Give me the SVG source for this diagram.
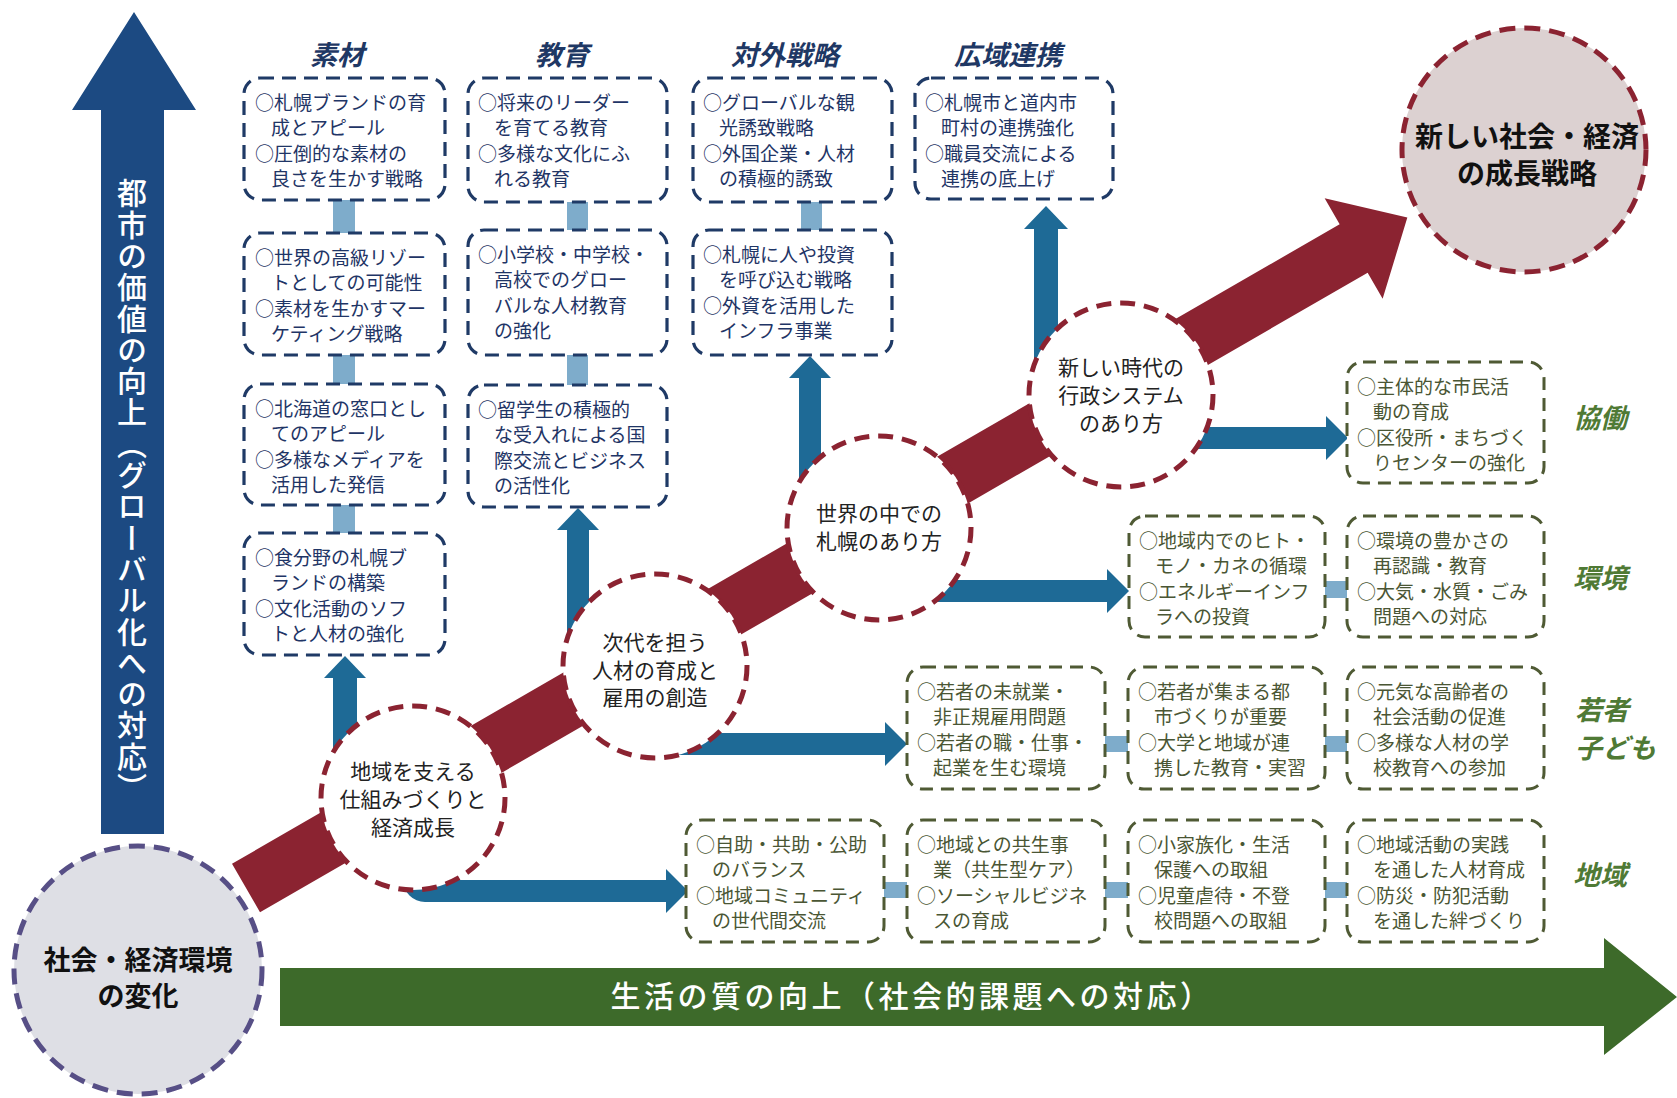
<svg xmlns="http://www.w3.org/2000/svg" width="1677" height="1098" viewBox="0 0 1677 1098">
<style>
text{font-family:"Noto Sans CJK JP","Noto Sans CJK SC",sans-serif}
.nb{fill:#fff;stroke:#1f3a66;stroke-width:3.2;stroke-dasharray:14 8}
.gb{fill:#fff;stroke:#4f5a34;stroke-width:3;stroke-dasharray:13 8}
.tn{font-size:19px;fill:#1f3566}
.tg{font-size:19px;fill:#4a5634}
.lb{fill:#7eaccb}
.ba{fill:#1e6a96}
.rc{fill:#fff;stroke:#8b2331;stroke-width:5;stroke-dasharray:15 9}
.ct{font-size:21px;fill:#222;text-anchor:middle}
.hd{font-size:27px;font-weight:bold;font-style:italic;fill:#1f3864;text-anchor:middle}
.lg{font-size:27px;font-weight:bold;font-style:italic;fill:#4f7a35}
</style>
<rect width="1677" height="1098" fill="#fff"/>

<!-- axes -->
<g id="axis-vertical">
<path d="M101,834 V110 H72 L134,12 L196,110 H164 V834 Z" fill="#1c4a82"/>
<text x="132" y="178" style="writing-mode:vertical-rl" font-size="30" font-weight="500" fill="#fff" letter-spacing="1.3">都市の価値の向上（グローバル化への対応）</text>
</g>
<g id="axis-horizontal">
<path d="M280,968 H1604 V938 L1677,997 L1604,1055 V1026 H280 Z" fill="#3d6a2a"/>
<text x="912" y="1007" font-size="30" font-weight="500" fill="#fff" text-anchor="middle" letter-spacing="3.5">生活の質の向上（社会的課題への対応）</text>
</g>

<!-- headers / labels -->
<g id="headers">
<text class="hd" x="337" y="65">素材</text>
<text class="hd" x="562" y="65">教育</text>
<text class="hd" x="785" y="65">対外戦略</text>
<text class="hd" x="1008" y="65">広域連携</text>
<text class="lg" x="1573" y="428">協働</text>
<text class="lg" x="1573" y="588">環境</text>
<text class="lg" x="1575" y="720">若者</text>
<text class="lg" x="1575" y="758">子ども</text>
<text class="lg" x="1573" y="885">地域</text>
</g>

<!-- connectors -->
<g id="connectors">
<g id="box-links">
<rect class="lb" x="333" y="198" width="22" height="37"/>
<rect class="lb" x="333" y="353" width="22" height="33"/>
<rect class="lb" x="333" y="503" width="22" height="32"/>
<rect class="lb" x="567" y="200" width="21" height="32"/>
<rect class="lb" x="567" y="353" width="21" height="34"/>
<rect class="lb" x="801" y="200" width="21" height="32"/>
<rect class="lb" x="1323" y="581" width="26" height="17"/>
<rect class="lb" x="1103" y="736" width="27" height="16"/>
<rect class="lb" x="1323" y="736" width="26" height="16"/>
<rect class="lb" x="882" y="882" width="27" height="16"/>
<rect class="lb" x="1103" y="882" width="27" height="16"/>
<rect class="lb" x="1323" y="882" width="26" height="16"/>
</g>
<g id="main-arrow" transform="translate(246,888) rotate(-30)">
<polygon points="0,-28 1279,-28 1279,-58 1341,0 1279,58 1279,28 0,28" fill="#8b2331"/>
</g>
<g id="blue-arrows">
<path class="ba" d="M333,798 V678 H324 L345,656 L366,678 H357 V798 Z"/>
<path class="ba" d="M567,666 V530 H557 L578,508 L599,530 H589 V666 Z"/>
<path class="ba" d="M799,528 V378 H789 L810,356 L831,378 H821 V528 Z"/>
<path class="ba" d="M1034,395 V229 H1024 L1046,206 L1068,229 H1058 V395 Z"/>
<path class="ba" d="M1121,427 H1326 V416 L1348,438 L1326,460 V449 H1121 Z"/>
<path class="ba" d="M879,580 H1107 V569 L1129,591 L1107,613 V602 H879 Z"/>
<path class="ba" d="M655,733 H885 V722 L907,744 L885,766 V755 H655 Z"/>
<path class="ba" d="M403,850 H426 V880 H666 V869 L688,891 L666,913 V902 H425 A22,22 0 0 1 403,880 Z"/>
</g>
</g>

<!-- nodes -->
<g id="node-env">
<circle cx="138" cy="970" r="124" fill="#dedfe5" stroke="#574f86" stroke-width="5" stroke-dasharray="16 9"/>
<text x="138" y="970" font-size="27" font-weight="bold" fill="#111" text-anchor="middle">社会・経済環境</text>
<text x="138" y="1006" font-size="27" font-weight="bold" fill="#111" text-anchor="middle">の変化</text>
</g>
<g id="node-goal">
<circle cx="1524" cy="150" r="122" fill="#dcd1d1" stroke="#8b2331" stroke-width="5" stroke-dasharray="16 9"/>
<text x="1527" y="147" font-size="28" font-weight="bold" fill="#111" text-anchor="middle">新しい社会・経済</text>
<text x="1527" y="184" font-size="28" font-weight="bold" fill="#111" text-anchor="middle">の成長戦略</text>
</g>
<g id="node-c1">
<circle class="rc" cx="413" cy="798" r="92"/>
<text class="ct" x="413" y="779">地域を支える</text>
<text class="ct" x="413" y="807">仕組みづくりと</text>
<text class="ct" x="413" y="835">経済成長</text>
</g>
<g id="node-c2">
<circle class="rc" cx="655" cy="666" r="92"/>
<text class="ct" x="655" y="650">次代を担う</text>
<text class="ct" x="655" y="678">人材の育成と</text>
<text class="ct" x="655" y="705">雇用の創造</text>
</g>
<g id="node-c3">
<circle class="rc" cx="879" cy="528" r="92"/>
<text class="ct" x="879" y="521">世界の中での</text>
<text class="ct" x="879" y="549">札幌のあり方</text>
</g>
<g id="node-c4">
<circle class="rc" cx="1121" cy="395" r="92"/>
<text class="ct" x="1121" y="375">新しい時代の</text>
<text class="ct" x="1121" y="403">行政システム</text>
<text class="ct" x="1121" y="431">のあり方</text>
</g>

<g id="node-A1"><rect class="nb" x="244" y="78" width="201" height="122" rx="16"/>
<text class="tn"><tspan x="255" y="110">○札幌ブランドの育</tspan><tspan x="271" y="135">成とアピール</tspan><tspan x="255" y="161">○圧倒的な素材の</tspan><tspan x="271" y="186">良さを生かす戦略</tspan></text></g>
<g id="node-A2"><rect class="nb" x="244" y="233" width="201" height="122" rx="16"/>
<text class="tn"><tspan x="255" y="265">○世界の高級リゾー</tspan><tspan x="271" y="290">トとしての可能性</tspan><tspan x="255" y="316">○素材を生かすマー</tspan><tspan x="271" y="341">ケティング戦略</tspan></text></g>
<g id="node-A3"><rect class="nb" x="244" y="384" width="201" height="121" rx="16"/>
<text class="tn"><tspan x="255" y="416">○北海道の窓口とし</tspan><tspan x="271" y="441">てのアピール</tspan><tspan x="255" y="467">○多様なメディアを</tspan><tspan x="271" y="492">活用した発信</tspan></text></g>
<g id="node-A4"><rect class="nb" x="244" y="533" width="201" height="122" rx="16"/>
<text class="tn"><tspan x="255" y="565">○食分野の札幌ブ</tspan><tspan x="271" y="590">ランドの構築</tspan><tspan x="255" y="616">○文化活動のソフ</tspan><tspan x="271" y="641">トと人材の強化</tspan></text></g>

<g id="node-B1"><rect class="nb" x="468" y="78" width="199" height="124" rx="16"/>
<text class="tn"><tspan x="478" y="110">○将来のリーダー</tspan><tspan x="494" y="135">を育てる教育</tspan><tspan x="478" y="161">○多様な文化にふ</tspan><tspan x="494" y="186">れる教育</tspan></text></g>
<g id="node-B2"><rect class="nb" x="468" y="230" width="199" height="125" rx="16"/>
<text class="tn"><tspan x="478" y="262">○小学校・中学校・</tspan><tspan x="494" y="287">高校でのグロー</tspan><tspan x="494" y="313">バルな人材教育</tspan><tspan x="494" y="338">の強化</tspan></text></g>
<g id="node-B3"><rect class="nb" x="468" y="385" width="199" height="122" rx="16"/>
<text class="tn"><tspan x="478" y="417">○留学生の積極的</tspan><tspan x="494" y="442">な受入れによる国</tspan><tspan x="494" y="468">際交流とビジネス</tspan><tspan x="494" y="493">の活性化</tspan></text></g>

<g id="node-C1"><rect class="nb" x="693" y="78" width="199" height="124" rx="16"/>
<text class="tn"><tspan x="703" y="110">○グローバルな観</tspan><tspan x="719" y="135">光誘致戦略</tspan><tspan x="703" y="161">○外国企業・人材</tspan><tspan x="719" y="186">の積極的誘致</tspan></text></g>
<g id="node-C2"><rect class="nb" x="693" y="230" width="199" height="125" rx="16"/>
<text class="tn"><tspan x="703" y="262">○札幌に人や投資</tspan><tspan x="719" y="287">を呼び込む戦略</tspan><tspan x="703" y="313">○外資を活用した</tspan><tspan x="719" y="338">インフラ事業</tspan></text></g>

<g id="node-D1"><rect class="nb" x="915" y="78" width="198" height="121" rx="16"/>
<text class="tn"><tspan x="925" y="110">○札幌市と道内市</tspan><tspan x="941" y="135">町村の連携強化</tspan><tspan x="925" y="161">○職員交流による</tspan><tspan x="941" y="186">連携の底上げ</tspan></text></g>

<g id="node-E1"><rect class="gb" x="1347" y="362" width="197" height="121" rx="16"/>
<text class="tg"><tspan x="1357" y="394">○主体的な市民活</tspan><tspan x="1373" y="419">動の育成</tspan><tspan x="1357" y="445">○区役所・まちづく</tspan><tspan x="1373" y="470">りセンターの強化</tspan></text></g>

<g id="node-F1"><rect class="gb" x="1129" y="516" width="196" height="121" rx="16"/>
<text class="tg"><tspan x="1139" y="548">○地域内でのヒト・</tspan><tspan x="1155" y="573">モノ・カネの循環</tspan><tspan x="1139" y="599">○エネルギーインフ</tspan><tspan x="1155" y="624">ラへの投資</tspan></text></g>
<g id="node-F2"><rect class="gb" x="1347" y="516" width="197" height="121" rx="16"/>
<text class="tg"><tspan x="1357" y="548">○環境の豊かさの</tspan><tspan x="1373" y="573">再認識・教育</tspan><tspan x="1357" y="599">○大気・水質・ごみ</tspan><tspan x="1373" y="624">問題への対応</tspan></text></g>

<g id="node-G1"><rect class="gb" x="907" y="667" width="198" height="122" rx="16"/>
<text class="tg"><tspan x="917" y="699">○若者の未就業・</tspan><tspan x="933" y="724">非正規雇用問題</tspan><tspan x="917" y="750">○若者の職・仕事・</tspan><tspan x="933" y="775">起業を生む環境</tspan></text></g>
<g id="node-G2"><rect class="gb" x="1128" y="667" width="197" height="122" rx="16"/>
<text class="tg"><tspan x="1138" y="699">○若者が集まる都</tspan><tspan x="1154" y="724">市づくりが重要</tspan><tspan x="1138" y="750">○大学と地域が連</tspan><tspan x="1154" y="775">携した教育・実習</tspan></text></g>
<g id="node-G3"><rect class="gb" x="1347" y="667" width="197" height="122" rx="16"/>
<text class="tg"><tspan x="1357" y="699">○元気な高齢者の</tspan><tspan x="1373" y="724">社会活動の促進</tspan><tspan x="1357" y="750">○多様な人材の学</tspan><tspan x="1373" y="775">校教育への参加</tspan></text></g>

<g id="node-H1"><rect class="gb" x="686" y="820" width="198" height="122" rx="16"/>
<text class="tg"><tspan x="696" y="852">○自助・共助・公助</tspan><tspan x="712" y="877">のバランス</tspan><tspan x="696" y="903">○地域コミュニティ</tspan><tspan x="712" y="928">の世代間交流</tspan></text></g>
<g id="node-H2"><rect class="gb" x="907" y="820" width="198" height="122" rx="16"/>
<text class="tg"><tspan x="917" y="852">○地域との共生事</tspan><tspan x="933" y="877">業（共生型ケア）</tspan><tspan x="917" y="903">○ソーシャルビジネ</tspan><tspan x="933" y="928">スの育成</tspan></text></g>
<g id="node-H3"><rect class="gb" x="1128" y="820" width="197" height="122" rx="16"/>
<text class="tg"><tspan x="1138" y="852">○小家族化・生活</tspan><tspan x="1154" y="877">保護への取組</tspan><tspan x="1138" y="903">○児童虐待・不登</tspan><tspan x="1154" y="928">校問題への取組</tspan></text></g>
<g id="node-H4"><rect class="gb" x="1347" y="820" width="197" height="122" rx="16"/>
<text class="tg"><tspan x="1357" y="852">○地域活動の実践</tspan><tspan x="1373" y="877">を通した人材育成</tspan><tspan x="1357" y="903">○防災・防犯活動</tspan><tspan x="1373" y="928">を通した絆づくり</tspan></text></g>
</svg>
